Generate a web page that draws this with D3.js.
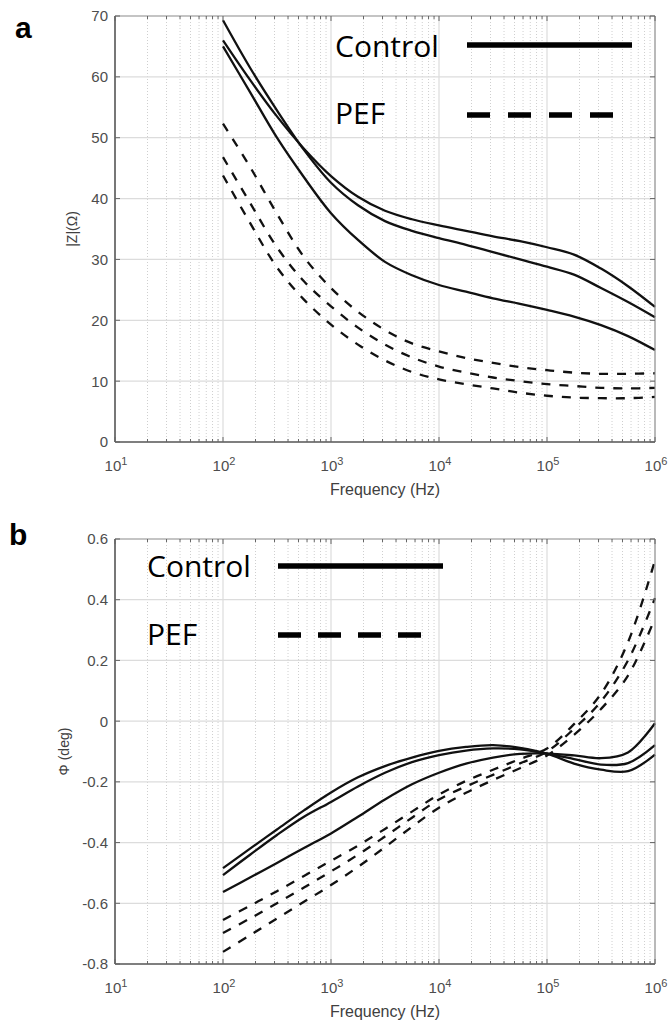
<!DOCTYPE html>
<html>
<head>
<meta charset="utf-8">
<script src="https://cdn.jsdelivr.net/npm/d3@7"></script>
<style>
  html, body { margin: 0; padding: 0; background: #fff; }
  svg { display: block; }
</style>
</head>
<body>
<script>
// ---------------- DATA ----------------
const freq = [100, 178, 316, 562, 1000, 1778, 3162, 5623, 10000, 17783, 31623, 56234,
              100000, 177828, 316228, 562341, 1000000];

// Panel a : |Z| (Ohm)
const ctrlZ1 = [69.3, 61.5, 54.5, 48.0, 42.6, 38.9, 36.3, 34.7, 33.5, 32.4, 31.2, 30.0, 28.8, 27.5, 25.3, 23.0, 20.5];
const ctrlZ2 = [66.0, 59.5, 53.5, 48.2, 43.7, 40.3, 38.0, 36.6, 35.6, 34.7, 33.8, 33.0, 32.0, 30.8, 28.5, 25.6, 22.2];
const ctrlZ3 = [65.0, 57.5, 50.0, 43.5, 37.6, 33.2, 29.6, 27.4, 25.8, 24.7, 23.6, 22.7, 21.7, 20.6, 19.2, 17.4, 15.1];
const pefZ1  = [52.3, 45.2, 37.5, 30.4, 25.3, 21.4, 18.4, 16.2, 14.9, 13.8, 13.0, 12.3, 11.8, 11.4, 11.2, 11.2, 11.3];
const pefZ2  = [46.8, 39.3, 32.0, 26.4, 22.3, 18.8, 16.0, 13.9, 12.4, 11.4, 10.6, 10.0, 9.5, 9.2, 8.9, 8.8, 8.9];
const pefZ3  = [43.8, 36.0, 28.7, 23.4, 19.3, 16.0, 13.4, 11.5, 10.3, 9.5, 8.8, 8.1, 7.6, 7.3, 7.2, 7.2, 7.4];

// Panel b : phase (deg)
const ctrlP1 = [-0.484, -0.42, -0.357, -0.294, -0.235, -0.185, -0.148, -0.12, -0.098, -0.085, -0.079, -0.088, -0.107, -0.14, -0.16, -0.165, -0.11];
const ctrlP2 = [-0.507, -0.44, -0.375, -0.315, -0.266, -0.215, -0.17, -0.135, -0.112, -0.097, -0.09, -0.093, -0.107, -0.125, -0.143, -0.138, -0.079];
const ctrlP3 = [-0.563, -0.515, -0.467, -0.418, -0.37, -0.315, -0.258, -0.208, -0.17, -0.14, -0.12, -0.108, -0.107, -0.113, -0.122, -0.103, -0.007];
const pefP1  = [-0.655, -0.608, -0.56, -0.51, -0.46, -0.41, -0.355, -0.298, -0.242, -0.197, -0.16, -0.125, -0.09, -0.01, 0.09, 0.26, 0.53];
const pefP2  = [-0.698, -0.65, -0.60, -0.548, -0.495, -0.44, -0.38, -0.318, -0.258, -0.215, -0.177, -0.139, -0.10, -0.025, 0.065, 0.20, 0.405];
const pefP3  = [-0.76, -0.705, -0.65, -0.595, -0.54, -0.48, -0.415, -0.348, -0.285, -0.236, -0.194, -0.155, -0.113, -0.045, 0.04, 0.15, 0.339];

// Ticks
const xTickValues = [10, 100, 1000, 10000, 100000, 1000000];
const xTickExponents = ["1", "2", "3", "4", "5", "6"];
const zTicks = [0, 10, 20, 30, 40, 50, 60, 70];
const phiTicks = [-0.8, -0.6, -0.4, -0.2, 0, 0.2, 0.4, 0.6];
const legendLabels = ["Control", "PEF"];

// ---------------- DRAW ----------------
const W = 671, H = 1023;
const svg = d3.select("body").append("svg").attr("width", W).attr("height", H);

const TICK_FONT = "'Liberation Sans', Arial, Helvetica, sans-serif";
const LEG_FONT = "'Open Sans', 'Noto Sans', sans-serif";
const GRAY = "#4d4d4d";

function drawPanel(cfg) {
  const g = svg.append("g");
  const x = d3.scaleLog().domain([10, 1e6]).range([cfg.left, cfg.right]);
  const y = d3.scaleLinear().domain(cfg.yDomain).range([cfg.bottom, cfg.top]);

  // minor x grid (dotted)
  const minor = [];
  for (let d = 10; d < 1e6; d *= 10) for (let k = 2; k <= 9; k++) minor.push(d * k);
  g.append("g").selectAll("line").data(minor).join("line")
    .attr("x1", d => x(d)).attr("x2", d => x(d))
    .attr("y1", cfg.top).attr("y2", cfg.bottom)
    .attr("stroke", "#cfcfcf").attr("stroke-width", 1)
    .attr("stroke-dasharray", "1,2");

  // major grid
  g.append("g").selectAll("line").data(xTickValues.slice(1, -1)).join("line")
    .attr("x1", d => x(d)).attr("x2", d => x(d))
    .attr("y1", cfg.top).attr("y2", cfg.bottom)
    .attr("stroke", "#dcdcdc").attr("stroke-width", 1.2);
  g.append("g").selectAll("line").data(cfg.yTicks.slice(1, -1)).join("line")
    .attr("x1", cfg.left).attr("x2", cfg.right)
    .attr("y1", d => y(d)).attr("y2", d => y(d))
    .attr("stroke", "#dcdcdc").attr("stroke-width", 1.2);

  // curves
  const line = d3.line().x(d => x(d[0])).y(d => y(d[1])).curve(d3.curveCatmullRom.alpha(0.5));
  cfg.series.forEach(s => {
    g.append("path")
      .attr("d", line(freq.map((f, i) => [f, s.values[i]])))
      .attr("fill", "none").attr("stroke", "#111").attr("stroke-width", 2.3)
      .attr("stroke-linejoin", "round")
      .attr("stroke-dasharray", s.dashed ? "9,9" : null);
  });

  // box
  g.append("line").attr("x1", cfg.left).attr("x2", cfg.right).attr("y1", cfg.top).attr("y2", cfg.top)
    .attr("stroke", "#8a8a8a").attr("stroke-width", 1.2);
  g.append("line").attr("x1", cfg.right).attr("x2", cfg.right).attr("y1", cfg.top).attr("y2", cfg.bottom)
    .attr("stroke", "#8a8a8a").attr("stroke-width", 1.2);
  g.append("line").attr("x1", cfg.left).attr("x2", cfg.right).attr("y1", cfg.bottom).attr("y2", cfg.bottom)
    .attr("stroke", "#555").attr("stroke-width", 1.6);
  g.append("line").attr("x1", cfg.left).attr("x2", cfg.left).attr("y1", cfg.top).attr("y2", cfg.bottom)
    .attr("stroke", "#555").attr("stroke-width", 1.6);

  // ticks (inward)
  const tk = g.append("g").attr("stroke", "#666").attr("stroke-width", 1);
  minor.forEach(d => {
    tk.append("line").attr("x1", x(d)).attr("x2", x(d)).attr("y1", cfg.bottom).attr("y2", cfg.bottom - 3);
    tk.append("line").attr("x1", x(d)).attr("x2", x(d)).attr("y1", cfg.top).attr("y2", cfg.top + 3);
  });
  xTickValues.forEach(d => {
    tk.append("line").attr("x1", x(d)).attr("x2", x(d)).attr("y1", cfg.bottom).attr("y2", cfg.bottom - 5);
    tk.append("line").attr("x1", x(d)).attr("x2", x(d)).attr("y1", cfg.top).attr("y2", cfg.top + 5);
  });
  cfg.yTicks.forEach(d => {
    tk.append("line").attr("x1", cfg.left).attr("x2", cfg.left + 5).attr("y1", y(d)).attr("y2", y(d));
    tk.append("line").attr("x1", cfg.right).attr("x2", cfg.right - 5).attr("y1", y(d)).attr("y2", y(d));
  });

  // x tick labels
  xTickValues.forEach((d, i) => {
    const t = g.append("text").attr("x", x(d) + 1).attr("y", cfg.bottom + cfg.xLabelOff)
      .attr("text-anchor", "middle").attr("font-family", TICK_FONT)
      .attr("font-size", 15).attr("fill", GRAY);
    t.append("tspan").text("10");
    t.append("tspan").attr("dy", -6).attr("font-size", 11).text(xTickExponents[i]);
  });
  // y tick labels
  cfg.yTicks.forEach(d => {
    g.append("text").attr("x", cfg.left - 7).attr("y", y(d)).attr("dy", "0.36em")
      .attr("text-anchor", "end").attr("font-family", TICK_FONT)
      .attr("font-size", 15).attr("fill", GRAY).text(cfg.yFormat(d));
  });

  // axis labels
  g.append("text").attr("x", (cfg.left + cfg.right) / 2).attr("y", cfg.bottom + cfg.xTitleOff)
    .attr("text-anchor", "middle").attr("font-family", TICK_FONT)
    .attr("font-size", 16).attr("fill", "#404040").text("Frequency (Hz)");
  g.append("text")
    .attr("transform", `translate(${cfg.yTitleX},${(cfg.top + cfg.bottom) / 2}) rotate(-90)`)
    .attr("text-anchor", "middle").attr("font-family", TICK_FONT)
    .attr("font-size", 14).attr("fill", "#404040").text(cfg.yTitle);

  // panel letter
  g.append("text").attr("x", cfg.letterX).attr("y", cfg.letterY)
    .attr("font-family", "'Liberation Sans', Arial, sans-serif").attr("font-weight", "bold")
    .attr("font-size", 30).attr("fill", "#000").text(cfg.letter);

  // legend
  const L = cfg.legend;
  g.append("text").attr("x", L.textX).attr("y", L.row1).attr("font-family", LEG_FONT)
    .attr("font-size", 30).attr("fill", "#000").text(legendLabels[0]);
  g.append("text").attr("x", L.textX).attr("y", L.row2).attr("font-family", LEG_FONT)
    .attr("font-size", 30).attr("fill", "#000").text(legendLabels[1]);
  g.append("line").attr("x1", L.lineX1).attr("x2", L.solidX2).attr("y1", L.line1).attr("y2", L.line1)
    .attr("stroke", "#000").attr("stroke-width", 5.5);
  g.append("line").attr("x1", L.lineX1).attr("x2", L.dashX2).attr("y1", L.line2).attr("y2", L.line2)
    .attr("stroke", "#000").attr("stroke-width", 5.5).attr("stroke-dasharray", L.dash);
}

drawPanel({
  left: 115, right: 655, top: 16, bottom: 442,
  yDomain: [0, 70], yTicks: zTicks, yFormat: d => String(d),
  xLabelOff: 29, xTitleOff: 53, yTitleX: 77, yTitle: "|Z|(Ω)",
  letter: "a", letterX: 15, letterY: 38,
  series: [
    { values: ctrlZ1 }, { values: ctrlZ2 }, { values: ctrlZ3 },
    { values: pefZ1, dashed: true }, { values: pefZ2, dashed: true }, { values: pefZ3, dashed: true }
  ],
  legend: { textX: 335, row1: 57, row2: 124, lineX1: 467, solidX2: 632, dashX2: 614,
            line1: 45, line2: 115, dash: "23,18" }
});

drawPanel({
  left: 115, right: 655, top: 539, bottom: 964,
  yDomain: [-0.8, 0.6], yTicks: phiTicks, yFormat: d => (Math.abs(d) < 1e-9 ? "0" : d.toFixed(1)),
  xLabelOff: 29, xTitleOff: 53, yTitleX: 69, yTitle: "Φ (deg)",
  letter: "b", letterX: 9, letterY: 545,
  series: [
    { values: ctrlP1 }, { values: ctrlP2 }, { values: ctrlP3 },
    { values: pefP1, dashed: true }, { values: pefP2, dashed: true }, { values: pefP3, dashed: true }
  ],
  legend: { textX: 147, row1: 577, row2: 645, lineX1: 278, solidX2: 443, dashX2: 425,
            line1: 566, line2: 635, dash: "23,17" }
});
</script>
</body>
</html>
